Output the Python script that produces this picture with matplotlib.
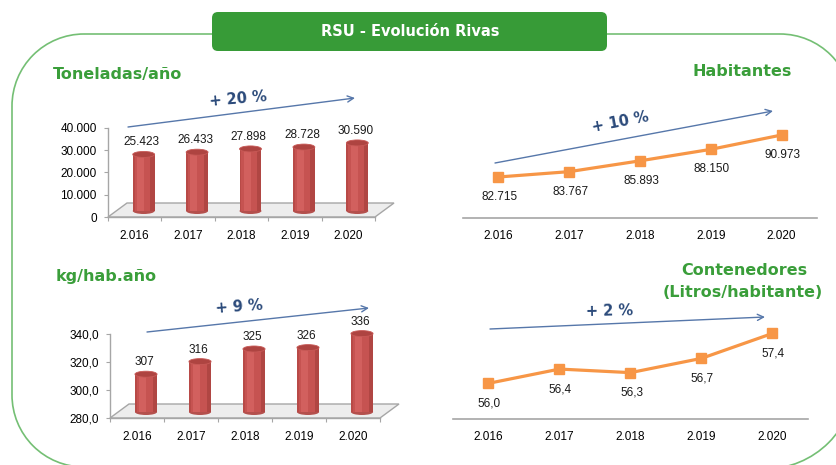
import matplotlib
matplotlib.use('Agg')
import matplotlib.pyplot as plt
from matplotlib.patches import FancyBboxPatch, Ellipse, Polygon, Arc
from matplotlib.transforms import offset_copy

# ---------------- data ----------------
years = ['2.016', '2.017', '2.018', '2.019', '2.020']
toneladas = [25423, 26433, 27898, 28728, 30590]
habitantes = [82715, 83767, 85893, 88150, 90973]
kg_hab = [307, 316, 325, 326, 336]
litros_hab = [56.0, 56.4, 56.3, 56.7, 57.4]
ton_ticks = [0, 10000, 20000, 30000, 40000]
kg_ticks = [280, 300, 320, 340]
pct_labels = ['+ 20 %', '+ 10 %', '+ 9 %', '+ 2 %']

W, H = 837, 465
GREEN = '#379B37'
TITLE_GREEN = '#3A9E3A'
FRAME_GREEN = '#74BF74'
PCT_BLUE = '#2B4A7A'
ARROW_BLUE = '#5677AA'
AXIS_GRAY = '#A6A6A6'
NUM_FONT = 'Liberation Sans'
TITLE_FONT = 'DejaVu Sans'

fig = plt.figure(figsize=(W / 100, H / 100), dpi=100)
bg = fig.add_axes([0, 0, 1, 1])
bg.set_xlim(0, W)
bg.set_ylim(H, 0)
bg.axis('off')


def px_axes(x0, y0, x1, y1):
    ax = fig.add_axes([x0 / W, (H - y1) / H, (x1 - x0) / W, (y1 - y0) / H])
    ax.patch.set_alpha(0)
    ax.set_zorder(2)
    return ax


def fmt_thousands(v):
    return f"{v:,.0f}".replace(',', '.')


def fmt_dec1(v):
    return f"{v:.1f}".replace('.', ',')


def fmt_int(v):
    return f"{v:.0f}"


# ---------------- frame & banner ----------------
fkw = dict(color=FRAME_GREEN, lw=1.2, zorder=1)
bg.plot([84, 780], [34, 34], solid_capstyle='butt', **fkw)
bg.plot([12, 12], [106, 395], solid_capstyle='butt', **fkw)
akw = dict(ec=FRAME_GREEN, lw=1.2, zorder=1, fill=False)
bg.add_patch(Arc((84, 106), 144, 144, theta1=180, theta2=270, **akw))
bg.add_patch(Arc((84, 395), 144, 144, theta1=90, theta2=180, **akw))
bg.add_patch(Arc((780, 106), 144, 144, theta1=270, theta2=360, **akw))
bg.add_patch(Arc((765, 379), 180, 180, theta1=0, theta2=90, **akw))

bg.add_patch(FancyBboxPatch((212, 12), 395, 39,
                            boxstyle='round,pad=0,rounding_size=6',
                            fc=GREEN, ec='none', zorder=3))
bg.text(410, 32, 'RSU - Evolución Rivas', color='white', fontsize=10.5,
        fontweight='bold', family=TITLE_FONT, ha='center', va='center', zorder=4)


# ---------------- bar charts (3D cylinder look) ----------------
def bar_chart(ax, values, ylim, yticks, ytick_fmt, label_fmt):
    n = len(values)
    ax.set_xlim(-0.5, n - 0.5)
    ax.set_ylim(*ylim)
    for s in ['top', 'right']:
        ax.spines[s].set_visible(False)
    for s in ['left', 'bottom']:
        ax.spines[s].set_color(AXIS_GRAY)
        ax.spines[s].set_linewidth(1.0)
    ax.set_yticks(yticks)
    ax.set_yticklabels([ytick_fmt(t) for t in yticks], family=NUM_FONT)
    ax.tick_params(axis='y', length=3, color=AXIS_GRAY, pad=5, labelsize=8.5)
    ax.set_xticks([i - 0.5 for i in range(n + 1)])
    ax.set_xticklabels([])
    ax.tick_params(axis='x', which='major', length=3, color=AXIS_GRAY)
    ax.set_xticks(range(n), minor=True)
    ax.set_xticklabels(years, minor=True, family=NUM_FONT)
    ax.tick_params(axis='x', which='minor', length=0, pad=9, labelsize=8.5)

    p0 = ax.transData.transform((0, ylim[0]))
    p1 = ax.transData.transform((1, ylim[1]))
    sx = p1[0] - p0[0]
    sy = (p1[1] - p0[1]) / (ylim[1] - ylim[0])
    ddx, ddy = 19 / sx, 14 / sy
    base = ylim[0]
    ax.add_patch(Polygon([(-0.5, base), (n - 0.5, base),
                          (n - 0.5 + ddx, base + ddy), (-0.5 + ddx, base + ddy)],
                         closed=True, fc='#EDEDED', ec=AXIS_GRAY, lw=1.0,
                         clip_on=False, zorder=1))

    trans = offset_copy(ax.transData, fig=fig, x=9, y=6, units='dots')
    bw = 0.41
    cap = 6 / sy
    heights = [v - base for v in values]
    xs = list(range(n))

    def styled(container, z):
        for r in container:
            r.set_transform(trans)
            r.set_clip_on(False)
            r.set_zorder(z)

    for i in xs:
        ax.add_patch(Ellipse((i, base), bw, cap, transform=trans, fc='#B4504D',
                             ec='none', zorder=3, clip_on=False))
    styled(ax.bar(xs, heights, bottom=base, width=bw, color='#C65351', lw=0), 3)
    styled(ax.bar([i - bw * 0.15 for i in xs], heights, bottom=base, width=bw * 0.32,
                  color='#D2605E', lw=0), 3)
    styled(ax.bar([i + bw * 0.40 for i in xs], heights, bottom=base, width=bw * 0.20,
                  color='#B04643', lw=0), 3)
    styled(ax.bar([i - bw * 0.46 for i in xs], heights, bottom=base, width=bw * 0.08,
                  color='#B84A47', lw=0), 3)
    for i, v in enumerate(values):
        ax.add_patch(Ellipse((i, v), bw, cap, transform=trans, fc='#AE4441',
                             ec='#C85A57', lw=0.6, zorder=4, clip_on=False))
        ax.annotate(label_fmt(v), xy=(i, v), xycoords=trans, xytext=(-2, 6),
                    textcoords='offset pixels', ha='center', va='bottom',
                    fontsize=8.5, family=NUM_FONT, color='#1A1A1A', zorder=5)


ax1 = px_axes(108, 128, 375, 217)
bar_chart(ax1, toneladas, (0, 40000), ton_ticks, fmt_thousands, fmt_thousands)

ax3 = px_axes(110, 334, 380, 418)
bar_chart(ax3, kg_hab, (280, 340), kg_ticks, fmt_dec1, fmt_int)


# ---------------- line charts ----------------
def line_chart(ax, values, ylim, label_fmt):
    ax.set_xlim(-0.5, len(values) - 0.5)
    ax.set_ylim(*ylim)
    for s in ['top', 'right', 'left']:
        ax.spines[s].set_visible(False)
    ax.spines['bottom'].set_color(AXIS_GRAY)
    ax.spines['bottom'].set_linewidth(1.2)
    ax.set_yticks([])
    ax.set_xticks(range(len(values)))
    ax.set_xticklabels(years, family=NUM_FONT)
    ax.tick_params(axis='x', length=0, pad=8.5, labelsize=8.5)
    ax.plot(range(len(values)), values, color='#F79646', lw=2.3, marker='s',
            ms=6.5, clip_on=False, zorder=3)
    for i, v in enumerate(values):
        ax.annotate(label_fmt(v), xy=(i, v), xytext=(1, -20),
                    textcoords='offset pixels', ha='center', va='center',
                    fontsize=8.5, family=NUM_FONT, color='#1A1A1A')


ax2 = px_axes(463, 100, 817, 218)
line_chart(ax2, habitantes, (74654, 97853), fmt_thousands)

ax4 = px_axes(453, 312, 808, 419)
line_chart(ax4, litros_hab, (55, 58), fmt_dec1)

# ---------------- titles ----------------
tkw = dict(color=TITLE_GREEN, fontweight='bold', family=TITLE_FONT, fontsize=11.5,
           va='center')
bg.text(53, 75, 'Toneladas/año', ha='left', **tkw)
bg.text(792, 72, 'Habitantes', ha='right', **tkw)
bg.text(56, 276, 'kg/hab.año', ha='left', **tkw)
bg.text(744, 270, 'Contenedores', ha='center', **tkw)
bg.text(743, 292, '(Litros/habitante)', ha='center', **tkw)

# ---------------- trend arrows ----------------
arrows = [((128, 127), (355, 98)), ((495, 163), (773, 111)),
          ((147, 332), (369, 308)), ((490, 329), (765, 317))]
pct_pos = [(238, 99, 5), (620, 122, 11), (239, 307, 4), (610, 311, 1)]
for (st, en), txt, (tx, ty, rot) in zip(arrows, pct_labels, pct_pos):
    bg.annotate('', xy=en, xytext=st,
                arrowprops=dict(arrowstyle='->', color=ARROW_BLUE, lw=1.0,
                                mutation_scale=11, shrinkA=0, shrinkB=0))
    bg.text(tx, ty, txt, color=PCT_BLUE, fontsize=10.5, fontweight='bold',
            family=TITLE_FONT, ha='center', va='center', rotation=rot)

fig.savefig('out.png', dpi=100)
